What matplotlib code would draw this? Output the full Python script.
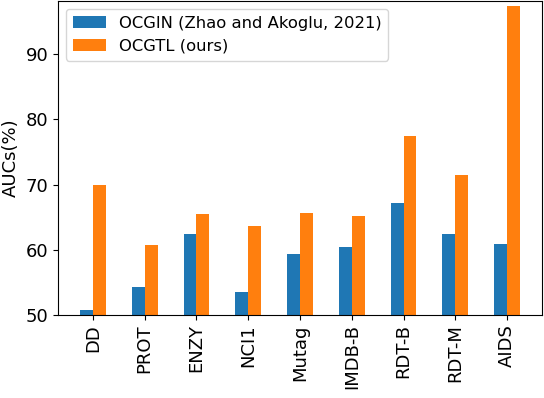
import numpy as np
import matplotlib
matplotlib.use('Agg')
import matplotlib.pyplot as plt

datasets = ['DD', 'PROT', 'ENZY', 'NCI1', 'Mutag', 'IMDB-B', 'RDT-B', 'RDT-M', 'AIDS']
ocgin = [50.7, 54.2, 62.4, 53.5, 59.3, 60.4, 67.1, 62.4, 60.8]
ocgtl = [69.9, 60.7, 65.5, 63.7, 65.7, 65.1, 77.4, 71.5, 97.5]

fig = plt.figure(figsize=(5.44, 3.98), dpi=100)
ax = fig.add_axes([58 / 544, (398 - 314.7) / 398, (542 - 58) / 544, (314.7 - 1) / 398])

x = np.arange(len(datasets))
w = 0.25
ax.bar(x - w / 2, ocgin, w, color='tab:blue', label='OCGIN (Zhao and Akoglu, 2021)')
ax.bar(x + w / 2, ocgtl, w, color='tab:orange', label='OCGTL (ours)')

ax.set_ylim(50, 98.2)
ax.set_yticks([50, 60, 70, 80, 90])
ax.set_xticks(x)
ax.set_xticklabels(datasets, rotation=90)
ax.tick_params(labelsize=13)
ax.set_ylabel('AUCs(%)', fontsize=13)
ax.legend(loc='upper left', fontsize=11.8)

fig.savefig('out.png', dpi=100)
